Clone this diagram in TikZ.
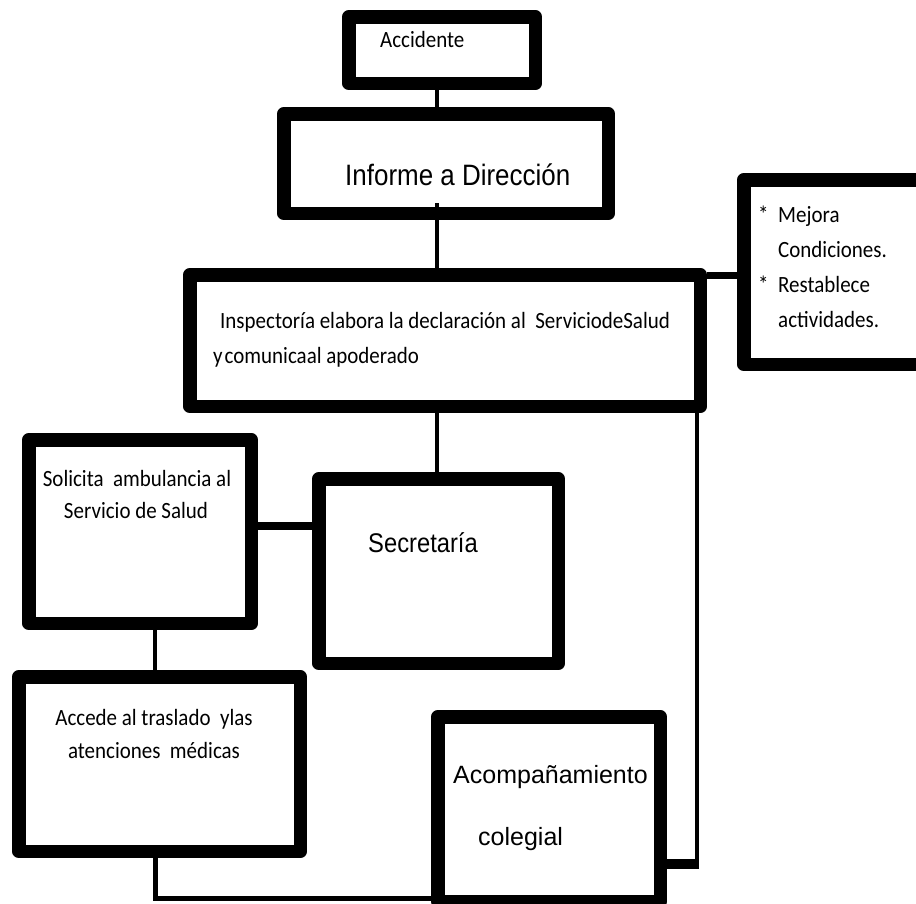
\documentclass[tikz,border=0pt]{standalone}
\usepackage{fontspec}
\usepackage{tikz}
\newfontfamily\fcal[FakeStretch=0.9]{Carlito}
\newfontfamily\farial{Liberation Sans}
\newfontfamily\farialc[FakeStretch=0.88]{Liberation Sans}

\tikzset{
  caja/.style={draw, line width=13.5pt, line join=round, fill=white, inner sep=0pt},
  linea/.style={line width=4pt},
  txtc/.style={font=\fcal\fontsize{23.3}{28}\selectfont, inner sep=0pt},
  txta/.style={font=\farial\fontsize{25}{30}\selectfont, inner sep=0pt}
}

\begin{document}
\begin{tikzpicture}[x=1pt,y=-1pt]
  \useasboundingbox (0,0) rectangle (916,903);
  \clip (0,0) rectangle (916,903);

  % Draw the boxes
  \node[caja, minimum width=186.5pt, minimum height=66.5pt] (acc) at (442,50) {};
  \node[caja, minimum width=324.5pt, minimum height=99.5pt] (inf) at (446,163.5) {};
  \node[caja, minimum width=179.5pt, minimum height=184.5pt] (mej) at (833.5,272) {};
  \node[caja, minimum width=510.5pt, minimum height=131.5pt] (insp) at (445,340.5) {};
  \node[caja, minimum width=222.5pt, minimum height=183.5pt] (sol) at (140,531.5) {};
  \node[caja, minimum width=239.5pt, minimum height=184.5pt] (sec) at (438.5,571) {};
  \node[caja, minimum width=281.5pt, minimum height=174.5pt] (acd) at (159.5,764) {};
  \node[caja, minimum width=222.5pt, minimum height=184.5pt] (aco) at (549,809) {};

  % Texts
  \node[txtc, anchor=base west] (accT) at (380,47) {Accidente};
  \node[txta, font=\farialc\fontsize{29.5}{34}\selectfont, anchor=base west] (infT) at (345,185) {Informe a Dirección};

  \node[txtc, anchor=base west] (mej1) at (758,222) {\makebox[20pt][l]{*}Mejora};
  \node[txtc, anchor=base west] (mej2) at (778,257) {Condiciones.};
  \node[txtc, anchor=base west] (mej3) at (758,292) {\makebox[20pt][l]{*}Restablece};
  \node[txtc, anchor=base west] (mej4) at (778,327) {actividades.};

  \node[txtc, anchor=base west] (insp1) at (220,328) {Inspectoría elabora la declaración al\ \ ServiciodeSalud};
  \node[txtc, anchor=base west] (insp2) at (213,363) {y\kern2pt comunicaal apoderado};

  \node[txtc, anchor=base] (sol1) at (137,486) {Solicita\ \ ambulancia al};
  \node[txtc, anchor=base] (sol2) at (136,518) {Servicio de Salud};

  \node[txta, font=\farialc\fontsize{27}{32}\selectfont, anchor=base west] (secT) at (368,552) {Secretaría};

  \node[txtc, anchor=base] (acd1) at (154,725) {Accede al traslado\ \ ylas};
  \node[txtc, anchor=base] (acd2) at (154,758) {atenciones\ \ médicas};

  \node[txta, anchor=base west] (aco1) at (453,783) {Acompañamiento};
  \node[txta, anchor=base west] (aco2) at (478,845) {colegial};

  % Connectors
  \coordinate (eje) at (437,0);
  \coordinate (stub) at (437,203);
  \draw[linea] (acc.south -| eje) -- (inf.north -| eje);
  \draw[linea] (stub) -- (insp.north -| stub);
  \draw[linea] (insp.south -| eje) -- (sec.north -| eje);

  \coordinate (c1) at (0,275);
  \draw[line width=7pt] (insp.east |- c1) -- (mej.west |- c1);

  \coordinate (c2) at (0,526);
  \draw[line width=8pt] (sol.east |- c2) -- (sec.west |- c2);

  \coordinate (c3) at (155,898);
  \draw[linea] (sol.south -| c3) -- (acd.north -| c3);
  \draw[line width=5pt] (acd.south -| c3) |- (aco.west |- c3);

  \coordinate (der) at (697,864);
  \draw[linea] (insp.south -| der) -- (der);
  \draw[line width=10pt] ([xshift=2pt]der) -- (aco.east |- der);
\end{tikzpicture}
\end{document}
